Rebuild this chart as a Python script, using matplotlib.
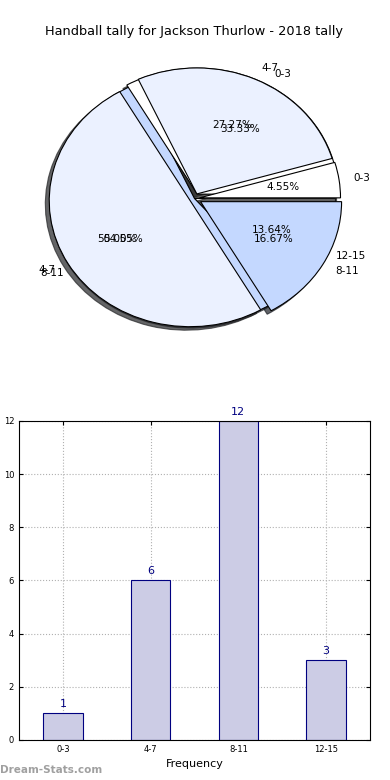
import numpy as np
import matplotlib
matplotlib.use("Agg")
import matplotlib.pyplot as plt

# ------------------------------- DATA -------------------------------------- #
title = "Handball tally for Jackson Thurlow - 2018 tally"
intervals = ["0-3", "4-7", "8-11", "12-15"]
counts = [1, 6, 12, 3]

# second (overlaid) tally
intervals_b = ["0-3", "4-7", "8-11"]
counts_b = [2, 3, 1]

pie_colors = ["white", "#EBF1FF", "#C4D8FF"]
bar_face = "#CCCCE5"
bar_edge = "#000080"

# ------------------------------ FIGURE ------------------------------------- #
fig = plt.figure(figsize=(3.9, 7.8), dpi=100)

# pie panel (no equal aspect -> slightly elliptic pie, like the original)
ax1 = fig.add_axes([0.0468, 0.5436, 0.9038, 0.4038])
wedge_kw = {"linewidth": 0.8, "edgecolor": "black"}
shadow_kw = {"shade": 0.85, "alpha": 0.7}

w1, t1, a1 = ax1.pie(counts, labels=intervals, colors=pie_colors + [pie_colors[0]],
                     explode=[0.036, 0.04, 0, 0], autopct="%.2f%%", shadow=shadow_kw,
                     wedgeprops=wedge_kw, textprops={"fontsize": 7.5})
w2, t2, a2 = ax1.pie(counts_b, labels=intervals_b, colors=pie_colors,
                     explode=[0.04, 0.035, 0.05], autopct="%.2f%%", shadow=shadow_kw,
                     wedgeprops=wedge_kw, textprops={"fontsize": 7.5})

# layering of the overlaid wedges
w1[3].set_zorder(0.5)
w1[2].set_zorder(1.0)
w2[0].set_zorder(1.1)
w1[0].set_zorder(1.2)
w1[1].set_zorder(1.2)
w2[1].set_zorder(1.3)
w2[2].set_zorder(1.3)

ax1.set_aspect("auto")
ax1.set_xlim(-1.25, 1.25)
ax1.set_ylim(-1.25, 1.25)
ax1.set_title(title, fontsize=9.3, pad=4)

# bar panel
ax2 = fig.add_axes([0.0487, 0.0513, 0.9, 0.409])
x = np.arange(len(intervals))
ax2.bar(x, counts, width=0.45, color=bar_face, edgecolor=bar_edge,
        linewidth=0.8, zorder=2)
for xi, v in zip(x, counts):
    ax2.text(xi, v + 0.15, str(v), ha="center", va="bottom",
             color=bar_edge, fontsize=8)

ax2.set_xlim(-0.5, 3.5)
ax2.set_ylim(0, 12)
ax2.set_xticks(x)
ax2.set_xticklabels(intervals)
ax2.set_yticks(np.arange(0, 13, 2))
ax2.tick_params(labelsize=6, direction="in", top=True, right=True, length=3)
ax2.grid(True, linestyle=":", color="#B0B0B0", linewidth=0.8, zorder=0)
ax2.set_axisbelow(True)
ax2.set_xlabel("Frequency", fontsize=8, labelpad=4)
ax2.set_ylabel("Stat Intervals", fontsize=8)
ax2.yaxis.set_label_coords(-0.046, 0.5)

fig.text(0.0, 0.0128, "Dream-Stats.com", fontsize=7.5, fontweight="bold",
         color="#A0A0A0", ha="left", va="center")

plt.savefig("out.png", dpi=100)
